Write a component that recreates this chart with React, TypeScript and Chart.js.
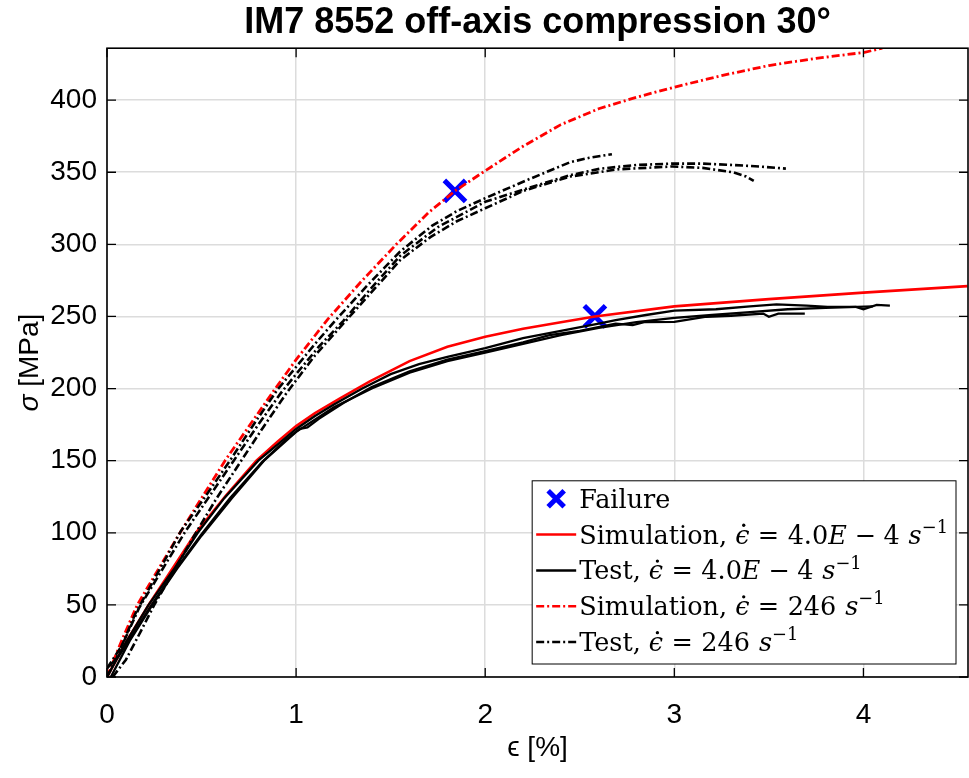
import { useEffect, useRef } from 'react';
import { Chart, registerables } from 'chart.js';
Chart.register(...registerables);

// ---------------- data (strain %, stress MPa) ----------------
const xTicksMax = 4.553;
const yTicksMax = 436;

const simLowRate: number[][] = [[0,0],[0.1,24],[0.22,50],[0.35,76],[0.47,100],[0.63,126],[0.79,150],[0.9,163],[1.0,174],[1.1,183],[1.23,193],[1.39,205],[1.6,219],[1.8,229],[2.0,236],[2.2,241.5],[2.4,246],[2.58,250],[3.0,257],[3.5,262],[4.0,266.5],[4.55,271]];

const simHighRate: number[][] = [[0,0],[0.08,26],[0.16,50],[0.386,100],[0.624,150],[0.89,200],[1.0,220],[1.167,248],[1.35,275],[1.53,300],[1.7,322],[1.84,337],[2.0,351],[2.2,368],[2.4,383],[2.6,394],[2.8,402],[3.0,409],[3.25,417],[3.5,424],[3.75,429],[4.0,433],[4.1,436]];

const testLow1: number[][] = [[0,0],[0.1,24],[0.22,50],[0.35,74],[0.48,100],[0.62,124],[0.8,150],[0.9,161],[1.0,172],[1.1,181],[1.2,189],[1.35,200],[1.5,210],[1.65,217],[1.8,222],[2.0,228],[2.2,235],[2.4,240],[2.6,245],[2.69,247.5],[2.85,251],[3.0,254],[3.22,255],[3.4,257],[3.54,258.4],[3.7,257.5],[3.81,256.7],[3.96,256.7],[4.0,255],[4.07,258],[4.14,257.5]];
const testLow2: number[][] = [[0,6],[0.06,14],[0.12,26],[0.23,49],[0.36,74],[0.5,99],[0.65,124],[0.82,149],[0.95,165],[1.02,172],[1.06,173],[1.12,179],[1.25,190],[1.4,201],[1.6,212],[1.8,220],[2.0,226],[2.2,232],[2.34,237],[2.5,240],[2.69,245],[2.78,244],[2.84,246],[3.0,246.3],[3.17,249.8],[3.3,250.5],[3.47,252],[3.5,249.8],[3.55,252],[3.69,252]];
const testLow3: number[][] = [[0.02,0],[0.12,25],[0.24,50],[0.37,75],[0.5,98],[0.66,124],[0.83,150],[1.0,170],[1.2,187],[1.4,200],[1.6,211],[1.8,219],[2.0,225],[2.2,231],[2.4,237],[2.6,242],[2.8,246],[3.0,249],[3.2,251],[3.4,253],[3.6,255],[3.8,256],[4.05,257]];

const testHigh1: number[][] = [[0,0],[0.05,13],[0.15,44],[0.28,75],[0.39,101],[0.53,127],[0.66,152],[0.78,176],[0.9,199],[1.0,215],[1.1,231],[1.22,249],[1.38,272],[1.55,295],[1.72,313],[1.85,323],[2.0,332],[2.22,344.5],[2.45,357],[2.55,360],[2.67,362.5]];
const testHigh2: number[][] = [[0,6],[0.08,22],[0.17,48],[0.29,74],[0.41,100],[0.54,125],[0.67,150],[0.8,175],[0.92,197],[1.0,210],[1.12,229],[1.25,247],[1.4,270],[1.55,292],[1.75,312],[2.0,329.5],[2.25,340],[2.45,348],[2.61,352.5],[2.8,355],[2.99,356],[3.15,356],[3.31,355],[3.45,354],[3.59,352.5]];
const testHigh3: number[][] = [[0.03,0],[0.1,12],[0.18,32],[0.25,50],[0.36,75],[0.47,100],[0.58,124],[0.7,148],[0.82,172],[0.95,197],[1.1,223],[1.27,248],[1.4,267],[1.55,289],[1.71,305],[1.85,316],[2.0,325],[2.2,337],[2.45,347],[2.7,352],[2.99,354],[3.15,353],[3.31,350],[3.38,347],[3.42,344]];

const failurePoints: number[][] = [[1.84,337],[2.58,250]];

const titleText = 'IM7 8552 off-axis compression 30°';

// ---------------- styles ----------------
const RED = '#ff0000';
const BLACK = '#000000';
const BLUE = '#0000ff';
const DASHDOT = [8, 3, 2, 3];
const SANS = '"Liberation Sans", Arial, sans-serif';
const SERIF = '"DejaVu Serif", serif';

const toXY = (a: number[][]) => a.map(([x, y]) => ({ x, y }));

type Run = { s?: string; i?: boolean; sup?: boolean; dot?: boolean; gap?: number };
const rateLow: Run[] = [{ s: 'ϵ', i: true, dot: true }, { gap: 0.33 }, { s: '=' }, { gap: 0.33 }, { s: '4.0' }, { s: 'E', i: true }, { gap: 0.3 }, { s: '−' }, { gap: 0.3 }, { s: '4' }, { gap: 0.35 }, { s: 's', i: true }, { s: '−1', sup: true }];
const rateHigh: Run[] = [{ s: 'ϵ', i: true, dot: true }, { gap: 0.33 }, { s: '=' }, { gap: 0.33 }, { s: '246' }, { gap: 0.35 }, { s: 's', i: true }, { s: '−1', sup: true }];

const legendItems = [
  { kind: 'marker', color: BLUE, dash: [] as number[], runs: [{ s: 'Failure' }] as Run[] },
  { kind: 'line', color: RED, dash: [] as number[], runs: [{ s: 'Simulation, ' }, ...rateLow] },
  { kind: 'line', color: BLACK, dash: [] as number[], runs: [{ s: 'Test, ' }, ...rateLow] },
  { kind: 'line', color: RED, dash: DASHDOT, runs: [{ s: 'Simulation, ' }, ...rateHigh] },
  { kind: 'line', color: BLACK, dash: DASHDOT, runs: [{ s: 'Test, ' }, ...rateHigh] },
];

const LEG_FONT = 25.5;

function drawRuns(ctx: CanvasRenderingContext2D, runs: Run[], x: number, y: number, measureOnly = false) {
  for (const r of runs) {
    if (r.gap !== undefined) { x += r.gap * LEG_FONT; continue; }
    const size = r.sup ? LEG_FONT * 0.7 : LEG_FONT;
    ctx.font = `${r.i ? 'italic ' : ''}${size}px ${SERIF}`;
    const w = ctx.measureText(r.s || '').width;
    if (!measureOnly) {
      const yy = r.sup ? y - LEG_FONT * 0.42 : y;
      ctx.fillText(r.s || '', x, yy);
      if (r.dot) {
        ctx.beginPath();
        ctx.arc(x + w * 0.6, y - LEG_FONT * 0.72, LEG_FONT * 0.065, 0, Math.PI * 2);
        ctx.fill();
      }
    }
    x += w;
  }
  return x;
}

function drawCross(ctx: CanvasRenderingContext2D, cx: number, cy: number, h: number) {
  ctx.save();
  ctx.strokeStyle = BLUE;
  ctx.lineWidth = 5;
  ctx.setLineDash([]);
  ctx.beginPath();
  ctx.moveTo(cx - h, cy - h); ctx.lineTo(cx + h, cy + h);
  ctx.moveTo(cx - h, cy + h); ctx.lineTo(cx + h, cy - h);
  ctx.stroke();
  ctx.restore();
}

const framePlugin = {
  id: 'framePlugin',
  afterDatasetsDraw(chart: any) {
    const { ctx, chartArea: ca, scales } = chart;
    ctx.save();
    // frame
    ctx.strokeStyle = BLACK;
    ctx.lineWidth = 1.6;
    ctx.setLineDash([]);
    ctx.strokeRect(ca.left, ca.top, ca.right - ca.left, ca.bottom - ca.top);
    // inward ticks
    ctx.lineWidth = 1.3;
    const TL = 9;
    ctx.beginPath();
    for (const t of scales.x.ticks) {
      const px = scales.x.getPixelForValue(t.value);
      ctx.moveTo(px, ca.bottom); ctx.lineTo(px, ca.bottom - TL);
      ctx.moveTo(px, ca.top); ctx.lineTo(px, ca.top + TL);
    }
    for (const t of scales.y.ticks) {
      const py = scales.y.getPixelForValue(t.value);
      ctx.moveTo(ca.left, py); ctx.lineTo(ca.left + TL, py);
      ctx.moveTo(ca.right, py); ctx.lineTo(ca.right - TL, py);
    }
    ctx.stroke();

    // legend
    const rowH = 35.8;
    let maxW = 0;
    for (const it of legendItems) maxW = Math.max(maxW, drawRuns(ctx, it.runs, 0, 0, true));
    const boxW = 4 + 40 + 3 + maxW + 8;
    const boxH = 18 + rowH * 4 + 22;
    const bx = ca.right - 12 - boxW;
    const by = ca.bottom - 13 - boxH;
    ctx.fillStyle = '#ffffff';
    ctx.fillRect(bx, by, boxW, boxH);
    ctx.strokeStyle = BLACK;
    ctx.lineWidth = 1;
    ctx.strokeRect(bx, by, boxW, boxH);
    legendItems.forEach((it, i) => {
      const cy = by + 18 + i * rowH;
      const lx = bx + 4;
      if (it.kind === 'marker') {
        drawCross(ctx, lx + 20, cy, 8);
      } else {
        ctx.save();
        ctx.strokeStyle = it.color;
        ctx.lineWidth = 2.5;
        ctx.setLineDash(it.dash);
        ctx.beginPath();
        ctx.moveTo(lx, cy); ctx.lineTo(lx + 40, cy);
        ctx.stroke();
        ctx.restore();
      }
      ctx.fillStyle = BLACK;
      ctx.textBaseline = 'alphabetic';
      ctx.textAlign = 'left';
      drawRuns(ctx, it.runs, lx + 43, cy + 9);
    });

    // axis titles
    ctx.fillStyle = BLACK;
    ctx.textBaseline = 'middle';
    ctx.textAlign = 'center';
    ctx.font = `28px ${SANS}`;
    ctx.fillText('ϵ [%]', (ca.left + ca.right) / 2, 748);

    ctx.save();
    ctx.translate(30, (ca.top + ca.bottom) / 2);
    ctx.rotate(-Math.PI / 2);
    ctx.textAlign = 'left';
    ctx.font = `italic 28px ${SANS}`;
    const w1 = ctx.measureText('σ').width;
    ctx.font = `28px ${SANS}`;
    const w2 = ctx.measureText(' [MPa]').width;
    const start = -(w1 + w2) / 2;
    ctx.font = `italic 28px ${SANS}`;
    ctx.fillText('σ', start, 0);
    ctx.font = `28px ${SANS}`;
    ctx.fillText(' [MPa]', start + w1, 0);
    ctx.restore();

    ctx.restore();
  },
};

export default function App() {
  const ref = useRef<HTMLCanvasElement | null>(null);
  useEffect(() => {
    if (!ref.current) return;
    const lineDs = (label: string, data: number[][], color: string, dash: number[], width: number) => ({
      label,
      data: toXY(data),
      borderColor: color,
      backgroundColor: color,
      borderWidth: width,
      borderDash: dash,
      showLine: true,
      pointRadius: 0,
      pointHoverRadius: 0,
      tension: 0,
      fill: false,
    });
    const chart = new Chart(ref.current, {
      type: 'scatter',
      data: {
        datasets: [
          lineDs('Test low 1', testLow1, BLACK, [], 2.3),
          lineDs('Test low 2', testLow2, BLACK, [], 2.3),
          lineDs('Test low 3', testLow3, BLACK, [], 2.3),
          lineDs('Test high 1', testHigh1, BLACK, DASHDOT, 2.6),
          lineDs('Test high 2', testHigh2, BLACK, DASHDOT, 2.6),
          lineDs('Test high 3', testHigh3, BLACK, DASHDOT, 2.6),
          lineDs('Simulation low', simLowRate, RED, [], 2.6),
          lineDs('Simulation high', simHighRate, RED, DASHDOT, 2.8),
          {
            label: 'Failure',
            data: toXY(failurePoints),
            showLine: false,
            pointStyle: 'crossRot',
            pointRadius: 15,
            pointHoverRadius: 15,
            pointBorderWidth: 5,
            pointBorderColor: BLUE,
            pointBackgroundColor: BLUE,
            borderColor: BLUE,
          } as any,
        ],
      },
      options: {
        animation: false,
        responsive: false,
        events: [],
        layout: { autoPadding: false, padding: { top: 0, right: 1, left: 0, bottom: 0 } },
        plugins: {
          legend: { display: false },
          tooltip: { enabled: false },
          title: {
            display: true,
            fullSize: false,
            text: titleText,
            color: BLACK,
            font: { family: SANS, size: 36, weight: 'bold', lineHeight: 1.2 },
            padding: { top: 1, bottom: 4 },
          },
        },
        scales: {
          x: {
            type: 'linear',
            min: 0,
            max: xTicksMax,
            afterFit: (s: any) => { s.height = 101; s.paddingLeft = 0; s.paddingRight = 0; },
            border: { display: false },
            grid: { color: '#dcdcdc', lineWidth: 1.5, drawTicks: false },
            ticks: { stepSize: 1, includeBounds: false, color: BLACK, padding: 21, font: { family: SANS, size: 28 } },
          },
          y: {
            type: 'linear',
            min: 0,
            max: yTicksMax,
            afterFit: (s: any) => { s.width = 107; s.paddingTop = 0; s.paddingBottom = 0; },
            border: { display: false },
            grid: { color: '#dcdcdc', lineWidth: 1.5, drawTicks: false },
            ticks: { stepSize: 50, includeBounds: false, color: BLACK, padding: 10, font: { family: SANS, size: 28 } },
          },
        },
      },
      plugins: [framePlugin],
    });
    return () => chart.destroy();
  }, []);
  return (
    <div style={{ position: 'absolute', left: 0, top: 0, width: 969, height: 778, background: '#fff' }}>
      <canvas ref={ref} width={969} height={778} style={{ display: 'block' }} />
    </div>
  );
}
